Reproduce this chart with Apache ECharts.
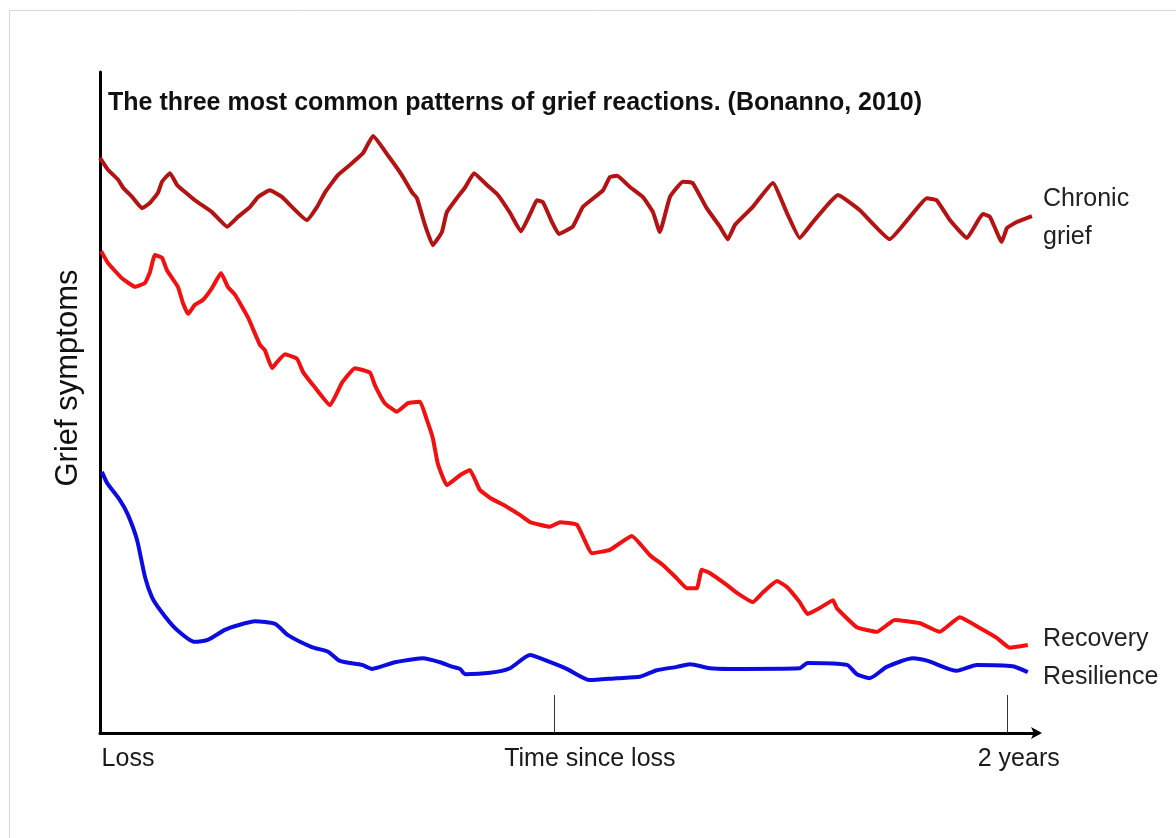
<!DOCTYPE html>
<html>
<head>
<meta charset="utf-8">
<script src="https://cdn.jsdelivr.net/npm/echarts@6/dist/echarts.min.js"></script>
<style>
html,body{margin:0;padding:0;background:#fff;}
#chart{width:1176px;height:838px;}
</style>
</head>
<body>
<div id="chart"></div>
<script>
// x: months since loss (24 = 2 years), y: grief symptom level (0-100)
const titleText = 'The three most common patterns of grief reactions. (Bonanno, 2010)';
const yAxisName = 'Grief symptoms';
const xTickLabels = {0: 'Loss', 12: 'Time since loss', 24: '2 years'};
const seriesNames = ['Chronic grief', 'Recovery', 'Resilience'];

const chronicGrief = [
  [0.00,87.0],[0.21,85.2],[0.48,83.7],[0.61,82.5],[0.85,81.1],[1.11,79.4],[1.32,80.2],[1.53,81.7],
  [1.64,83.4],[1.85,84.7],[2.04,82.9],[2.51,80.6],[2.96,78.8],[3.36,76.6],[3.65,78.1],[3.97,79.6],
  [4.18,81.1],[4.49,82.1],[4.81,81.1],[5.47,77.6],[5.74,79.6],[5.95,81.8],[6.29,84.4],[6.66,86.2],
  [6.95,87.7],[7.22,90.3],[7.61,87.4],[7.98,84.4],[8.25,81.8],[8.38,80.9],[8.59,76.9],[8.80,73.8],
  [9.04,75.8],[9.17,78.8],[9.46,81.1],[9.65,82.5],[9.89,84.7],[10.23,82.9],[10.52,81.4],[10.84,78.7],
  [11.13,75.9],[11.42,79.1],[11.55,80.6],[11.71,80.3],[11.95,77.3],[12.13,75.5],[12.50,76.6],[12.77,79.6],
  [13.30,82.1],[13.48,84.1],[13.67,84.3],[14.01,82.6],[14.35,81.1],[14.62,78.8],[14.80,75.8],[15.07,81.1],
  [15.41,83.4],[15.67,83.2],[16.04,79.4],[16.39,76.6],[16.60,74.7],[16.79,76.9],[17.26,79.6],[17.79,83.2],
  [18.16,78.7],[18.50,74.9],[18.85,77.3],[19.30,80.3],[19.51,81.4],[20.09,79.1],[20.88,74.7],[21.46,78.4],
  [21.86,80.9],[22.12,80.6],[22.47,77.6],[22.92,74.9],[23.34,78.5],[23.53,78.1],[23.84,74.3],[23.98,76.4],
  [24.24,77.3],[24.64,78.2]
];

const recovery = [
  [0.03,72.9],[0.21,71.1],[0.58,68.8],[0.93,67.5],[1.19,68.1],[1.32,69.7],[1.45,72.3],[1.64,71.9],
  [1.77,70.0],[2.06,67.5],[2.19,65.1],[2.33,63.4],[2.51,64.8],[2.72,65.5],[2.96,67.3],[3.20,69.6],
  [3.38,67.5],[3.57,66.3],[3.91,62.9],[4.23,58.7],[4.36,57.9],[4.55,55.2],[4.68,56.1],[4.89,57.3],
  [5.21,56.6],[5.37,54.6],[5.68,52.3],[6.08,49.6],[6.40,53.0],[6.74,55.2],[7.14,54.5],[7.27,52.6],
  [7.53,49.9],[7.85,48.6],[8.14,49.9],[8.46,50.1],[8.64,47.4],[8.80,44.6],[8.93,40.8],[9.17,37.5],
  [9.52,39.0],[9.78,39.8],[10.04,36.8],[10.31,35.6],[10.76,34.2],[11.10,33.0],[11.37,31.9],[11.89,31.2],
  [12.16,31.9],[12.61,31.5],[13.01,27.2],[13.48,27.7],[14.06,29.8],[14.54,26.9],[14.88,25.4],[15.25,23.4],
  [15.52,21.9],[15.78,21.9],[15.91,24.7],[16.12,24.2],[16.57,22.4],[16.84,21.2],[17.26,19.8],[17.53,21.3],
  [17.90,23.0],[18.16,22.1],[18.50,19.8],[18.71,18.0],[19.03,18.9],[19.38,20.1],[19.48,18.9],[20.01,16.0],
  [20.54,15.3],[21.01,17.1],[21.68,16.6],[22.20,15.3],[22.73,17.5],[23.26,15.9],[23.71,14.4],[24.05,12.9],
  [24.53,13.3]
];

const resilience = [
  [0.05,39.5],[0.19,37.8],[0.53,35.2],[0.74,33.0],[0.98,29.2],[1.19,23.6],[1.37,20.6],[1.59,18.6],
  [1.98,15.9],[2.51,13.8],[2.85,14.1],[3.30,15.6],[3.65,16.3],[4.10,16.9],[4.63,16.5],[4.97,14.8],
  [5.60,13.0],[6.03,12.3],[6.34,10.9],[6.93,10.3],[7.19,9.7],[7.80,10.7],[8.33,11.2],[8.54,11.3],
  [8.99,10.7],[9.33,10.0],[9.52,9.7],[9.65,8.9],[10.31,9.1],[10.84,9.8],[11.37,11.8],[11.82,10.9],
  [12.34,9.7],[12.95,8.0],[13.67,8.3],[14.27,8.5],[14.72,9.5],[15.25,10.0],[15.60,10.4],[16.12,9.8],
  [16.65,9.7],[18.50,9.8],[18.71,10.6],[19.75,10.3],[20.01,8.9],[20.35,8.3],[20.80,10.0],[21.49,11.3],
  [21.89,10.9],[22.65,9.4],[23.18,10.3],[24.13,10.1],[24.53,9.2]
];

const FONT = "'Liberation Sans', Arial, sans-serif";
const chart = echarts.init(document.getElementById('chart'));
const labelFont = 25;

chart.setOption({
  backgroundColor: '#ffffff',
  animation: false,
  title: {
    text: titleText,
    left: 108, top: 91, padding: 0,
    textStyle: {fontFamily: FONT, fontSize: 25, fontWeight: 'bold', color: '#111'}
  },
  grid: {left: 100, right: 138, top: 72, bottom: 105, containLabel: false},
  xAxis: {
    type: 'value', min: 0, max: 24.8,
    axisLine: {show: true, symbol: ['none', 'arrow'], symbolSize: [9, 11], symbolOffset: [0, 4],
               lineStyle: {color: '#000', width: 3}},
    axisTick: {show: true, inside: true, length: 38, customValues: [12, 24],
               lineStyle: {color: '#333', width: 1}},
    splitLine: {show: false},
    axisLabel: {
      customValues: [0, 12, 24],
      margin: 14,
      fontFamily: FONT, fontSize: labelFont, color: '#1a1a1a',
      formatter: function (v) {
        const r = Math.round(v);
        if (r === 0) return '{a|' + xTickLabels[0] + '}';
        if (r === 12) return '{b|' + xTickLabels[12] + '}';
        if (r === 24) return '{c|' + xTickLabels[24] + '}';
        return '';
      },
      rich: {
        a: {fontFamily: FONT, fontSize: labelFont, color: '#1a1a1a', padding: [0, 0, 0, 56]},
        b: {fontFamily: FONT, fontSize: labelFont, color: '#1a1a1a', padding: [0, 0, 0, 72]},
        c: {fontFamily: FONT, fontSize: labelFont, color: '#1a1a1a', padding: [0, 0, 0, 22]}
      }
    }
  },
  yAxis: {
    type: 'value', min: 0, max: 100,
    axisLine: {show: true, lineStyle: {color: '#000', width: 3}},
    axisTick: {show: false},
    axisLabel: {show: false},
    splitLine: {show: false}
  },
  series: [
    {name: seriesNames[0], type: 'line', data: chronicGrief, showSymbol: false, smooth: 0.12,
     lineStyle: {color: '#b31313', width: 4}, itemStyle: {color: '#b31313'}},
    {name: seriesNames[1], type: 'line', data: recovery, showSymbol: false, smooth: 0.12,
     lineStyle: {color: '#f21010', width: 4}, itemStyle: {color: '#f21010'}},
    {name: seriesNames[2], type: 'line', data: resilience, showSymbol: false, smooth: 0.2,
     lineStyle: {color: '#0c0ce0', width: 4}, itemStyle: {color: '#0c0ce0'}}
  ],
  graphic: [
    {type: 'rect', left: 7, top: 8, shape: {width: 1200, height: 900}, silent: true,
     style: {fill: 'none', stroke: '#d8d8d8', lineWidth: 1}},
    {type: 'text', x: 68, y: 378, rotation: Math.PI / 2,
     style: {text: yAxisName, fontFamily: FONT, fontSize: 31, fill: '#111', align: 'center', verticalAlign: 'middle'}},
    {type: 'text', x: 1043, y: 199,
     style: {text: 'Chronic', fontFamily: FONT, fontSize: labelFont, fill: '#222', align: 'left', verticalAlign: 'middle'}},
    {type: 'text', x: 1043, y: 237,
     style: {text: 'grief', fontFamily: FONT, fontSize: labelFont, fill: '#222', align: 'left', verticalAlign: 'middle'}},
    {type: 'text', x: 1043, y: 639,
     style: {text: seriesNames[1], fontFamily: FONT, fontSize: labelFont, fill: '#222', align: 'left', verticalAlign: 'middle'}},
    {type: 'text', x: 1043, y: 677,
     style: {text: seriesNames[2], fontFamily: FONT, fontSize: labelFont, fill: '#222', align: 'left', verticalAlign: 'middle'}}
  ]
});
</script>
</body>
</html>
